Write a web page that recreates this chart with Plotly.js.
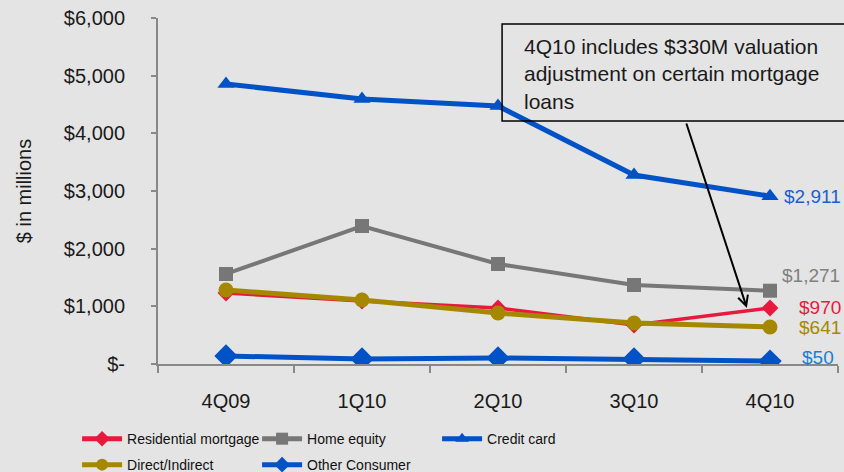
<!DOCTYPE html>
<html>
<head>
<meta charset="utf-8">
<script src="https://cdn.plot.ly/plotly-3.0.1.min.js"></script>
<style>html,body{margin:0;padding:0;background:#e4e4e4;}#chart{width:844px;height:472px;}</style>
</head>
<body>
<div id="chart"></div>
<script>
var quarters = ['4Q09', '1Q10', '2Q10', '3Q10', '4Q10'];
var residentialMortgage = [1231, 1092, 971, 676, 970];
var homeEquity = [1561, 2393, 1734, 1370, 1271];
var creditCard = [4855, 4595, 4474, 3277, 2911];
var directIndirect = [1283, 1110, 884, 711, 641];
var otherConsumer = [139, 87, 104, 87, 50];
var yTickVals = [0, 1000, 2000, 3000, 4000, 5000, 6000];
var yTickText = ['$-', '$1,000', '$2,000', '$3,000', '$4,000', '$5,000', '$6,000'];
var noteText = '4Q10 includes $330M valuation<br>adjustment on certain mortgage<br>loans';

var font = 'Liberation Sans, Arial, sans-serif';

function mk(name, y, color, width, symbol, size, legend) {
  return {
    type: 'scatter', mode: 'lines+markers', name: name, x: quarters, y: y,
    line: {color: color, width: width},
    marker: {color: color, symbol: symbol, size: size},
    legend: legend, hoverinfo: 'skip'
  };
}

var traces = [
  mk('Residential mortgage', residentialMortgage, '#e8193c', 3.5, 'diamond', 13, 'legend'),
  mk('Home equity', homeEquity, '#777777', 4, 'square', 14, 'legend'),
  mk('Credit card', creditCard, '#0052c6', 5, 'triangle-up', 15, 'legend'),
  mk('Direct/Indirect', directIndirect, '#a68800', 5, 'circle', 15, 'legend2'),
  mk('Other Consumer', otherConsumer, '#0052c6', 5, 'diamond', 18, 'legend2')
];

function fmt(v) { return '$' + v.toLocaleString('en-US'); }
var last = quarters.length - 1;
var endLabels = [
  {v: creditCard[last], c: '#1a5fd0', xs: 12, ys: 0},
  {v: homeEquity[last], c: '#808080', xs: 10, ys: 15},
  {v: residentialMortgage[last], c: '#e8193c', xs: 27, ys: 1},
  {v: directIndirect[last], c: '#a68800', xs: 27, ys: 0},
  {v: otherConsumer[last], c: '#1a7fd0', xs: 30, ys: 4}
];
var annotations = endLabels.map(function(e) {
  return {x: quarters[last], y: e.v, xref: 'x', yref: 'y', text: fmt(e.v), showarrow: false,
    xanchor: 'left', yanchor: 'middle', xshift: e.xs, yshift: e.ys,
    font: {family: font, size: 19, color: e.c}};
});
annotations.push({xref: 'paper', yref: 'paper', x: 0.535, y: 0.838, xanchor: 'left', yanchor: 'middle',
  align: 'left', text: noteText, showarrow: false, font: {family: font, size: 21, color: '#1a1a1a'}});
annotations.push({xref: 'paper', yref: 'paper', x: 0.866, y: 0.162, text: '', showarrow: true,
  ax: -61, ay: -186, arrowhead: 5, arrowsize: 1, arrowwidth: 2, arrowcolor: '#000000'});

var legendBase = {orientation: 'h', x: -0.119, xanchor: 'left', yanchor: 'middle', bgcolor: 'rgba(0,0,0,0)',
  itemwidth: 40, entrywidth: 125, itemsizing: 'constant', font: {family: font, size: 14, color: '#111111'}};

var layout = {
  width: 844, height: 472,
  margin: {l: 158, r: 6, t: 18, b: 108, autoexpand: false},
  paper_bgcolor: '#e4e4e4', plot_bgcolor: '#e4e4e4',
  font: {family: font, size: 20, color: '#1a1a1a'},
  xaxis: {
    type: 'category', categoryorder: 'array', categoryarray: quarters,
    range: [-0.5, 4.5], tickson: 'boundaries', ticks: 'outside', ticklen: 7, tickwidth: 2, tickcolor: '#888888',
    showline: true, linecolor: '#888888', linewidth: 2, showgrid: false, zeroline: false,
    tickfont: {family: font, size: 20, color: '#1a1a1a'}, ticklabelstandoff: 18, fixedrange: true
  },
  yaxis: {
    range: [0, 6000], tickvals: yTickVals, ticktext: yTickText, ticks: 'outside', ticklen: 5, tickwidth: 2,
    tickcolor: '#888888', showline: true, linecolor: '#888888', linewidth: 2, showgrid: false, zeroline: false,
    tickfont: {family: font, size: 20, color: '#1a1a1a'}, ticklabelstandoff: 22,
    title: {text: '$ in millions', font: {family: font, size: 20, color: '#1a1a1a'}, standoff: 27}, fixedrange: true
  },
  showlegend: true,
  legend: Object.assign({}, legendBase, {y: -0.217}),
  legend2: Object.assign({}, legendBase, {y: -0.292}),
  shapes: [{type: 'rect', xref: 'paper', yref: 'paper', x0: 0.506, x1: 1.05, y0: 0.7023, y1: 0.9827,
    line: {color: '#000000', width: 1.5}, fillcolor: 'rgba(0,0,0,0)'}],
  annotations: annotations
};

Plotly.newPlot('chart', traces, layout, {displayModeBar: false, staticPlot: true});
</script>
</body>
</html>
